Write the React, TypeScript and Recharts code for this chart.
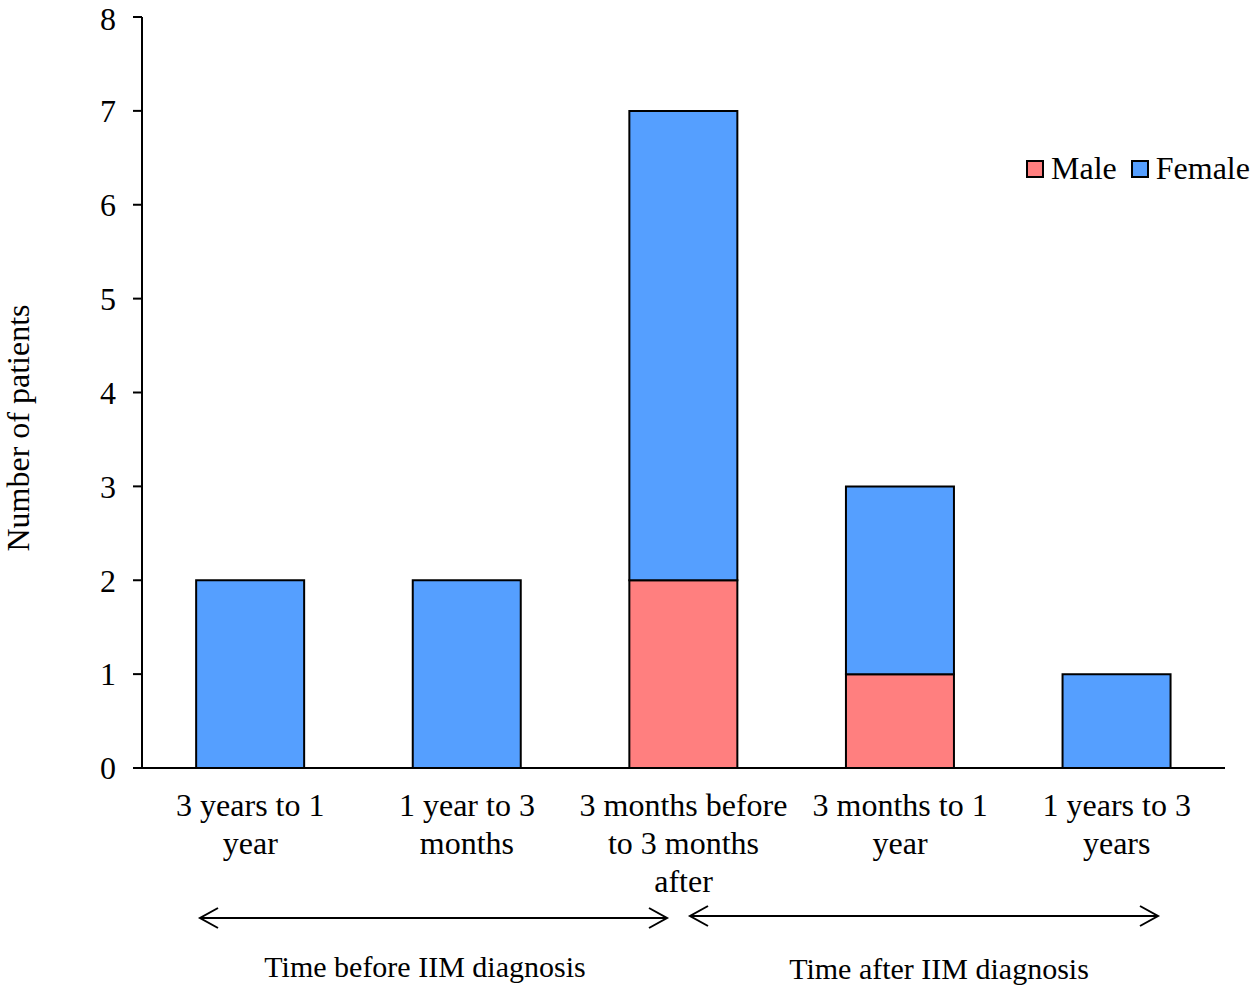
import { BarChart, Bar, XAxis, YAxis } from 'recharts';

const categories = [
  '3 years to 1 year',
  '1 year to 3 months',
  '3 months before to 3 months after',
  '3 months to 1 year',
  '1 years to 3 years',
];
const tickLines = [
  ['3 years to 1', 'year'],
  ['1 year to 3', 'months'],
  ['3 months before', 'to 3 months', 'after'],
  ['3 months to 1', 'year'],
  ['1 years to 3', 'years'],
];
const maleValues = [0, 0, 2, 1, 0];
const femaleValues = [2, 2, 5, 2, 1];
const yTicks = [0, 1, 2, 3, 4, 5, 6, 7, 8];
const seriesNames = ['Male', 'Female'];
const periodLabels = ['Time before IIM diagnosis', 'Time after IIM diagnosis'];

const MALE = '#FF7F7F';
const FEMALE = '#559FFF';
const FONT = '"Liberation Serif", "Times New Roman", serif';

const data = categories.map((c, i) => ({
  name: c,
  Male: maleValues[i],
  Female: femaleValues[i],
}));

const CategoryTick = (props: any) => {
  const { x, y, index } = props;
  const lines = tickLines[index] || [];
  return (
    <text x={x} y={y} textAnchor="middle" fontSize={32} fontFamily={FONT} fill="#000">
      {lines.map((l, i) => (
        <tspan key={i} x={x} dy={i === 0 ? 40 : 38}>
          {l}
        </tspan>
      ))}
    </text>
  );
};

const Arrow = ({ x1, x2, y }: { x1: number; x2: number; y: number }) => (
  <g stroke="#000" strokeWidth={2} fill="none">
    <line x1={x1} y1={y} x2={x2} y2={y} />
    <polyline points={`${x1 + 18},${y - 10} ${x1},${y} ${x1 + 18},${y + 10}`} />
    <polyline points={`${x2 - 18},${y - 10} ${x2},${y} ${x2 - 18},${y + 10}`} />
  </g>
);

export default function App() {
  return (
    <div style={{ position: 'absolute', left: 0, top: 0, width: 1258, height: 992, background: '#fff' }}>
      <BarChart
        width={1258}
        height={992}
        data={data}
        margin={{ top: 17, right: 33, bottom: 194, left: 0 }}
        barCategoryGap="25%"
      >
        <XAxis
          dataKey="name"
          height={30}
          axisLine={{ stroke: '#000', strokeWidth: 2 }}
          tickLine={false}
          tick={<CategoryTick />}
          interval={0}
        />
        <YAxis
          width={142}
          domain={[0, 8]}
          ticks={yTicks}
          axisLine={{ stroke: '#000', strokeWidth: 2 }}
          tickLine={{ stroke: '#000', strokeWidth: 2 }}
          tickSize={9}
          tickMargin={17}
          tick={{ fill: '#000', fontSize: 32, fontFamily: FONT }}
        />
        <Bar dataKey="Male" stackId="a" fill={MALE} stroke="#000" strokeWidth={2} isAnimationActive={false} />
        <Bar dataKey="Female" stackId="a" fill={FEMALE} stroke="#000" strokeWidth={2} isAnimationActive={false} />
      </BarChart>
      <div
        style={{
          position: 'absolute',
          top: 150,
          left: 1026,
          display: 'flex',
          alignItems: 'center',
          fontFamily: FONT,
          fontSize: 32,
          color: '#000',
          whiteSpace: 'nowrap',
        }}
      >
        {seriesNames.map((n, i) => (
          <span key={n} style={{ display: 'flex', alignItems: 'center', marginRight: 14 }}>
            <span
              style={{
                display: 'inline-block',
                width: 14,
                height: 14,
                background: i === 0 ? MALE : FEMALE,
                border: '2px solid #000',
                marginRight: 7,
              }}
            />
            {n}
          </span>
        ))}
      </div>
      <svg
        width={1258}
        height={992}
        style={{ position: 'absolute', left: 0, top: 0, pointerEvents: 'none' }}
      >
        <text
          x={0}
          y={0}
          transform="translate(29 428) rotate(-90)"
          textAnchor="middle"
          fontSize={32}
          fontFamily={FONT}
          fill="#000"
        >
          Number of patients
        </text>
        <Arrow x1={200} x2={667} y={918} />
        <Arrow x1={690} x2={1158} y={916} />
        <text x={425} y={977} textAnchor="middle" fontSize={30} fontFamily={FONT} fill="#000">
          {periodLabels[0]}
        </text>
        <text x={939} y={979} textAnchor="middle" fontSize={30} fontFamily={FONT} fill="#000">
          {periodLabels[1]}
        </text>
      </svg>
    </div>
  );
}
